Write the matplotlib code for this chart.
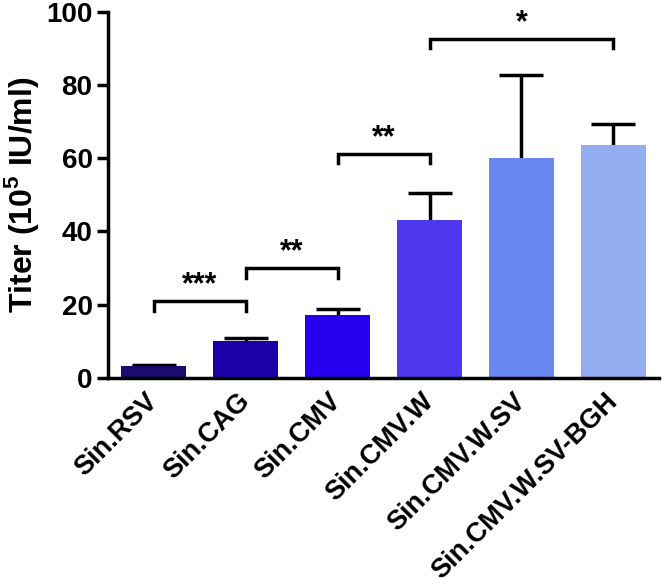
import matplotlib.pyplot as plt
import matplotlib.transforms as mtransforms

plt.rcParams['font.family'] = ['Liberation Sans', 'DejaVu Sans']
plt.rcParams['font.weight'] = 'bold'
plt.rcParams['mathtext.fontset'] = 'custom'
plt.rcParams['mathtext.bf'] = 'Liberation Sans:bold'

labels = ["Sin.RSV", "Sin.CAG", "Sin.CMV", "Sin.CMV.W", "Sin.CMV.W.SV", "Sin.CMV.W.SV-BGH"]
titer = [3.2, 10.1, 17.3, 43.2, 60.0, 63.6]
sem = [0.3, 0.7, 1.6, 7.4, 22.6, 5.8]
colors = ["#1a0c6e", "#1a00a8", "#2800f0", "#5038ee", "#6888f0", "#93aef0"]

# significance brackets: (left bar, right bar, bracket height, stars)
sig = [(0, 1, 21.0, "***"), (1, 2, 30.0, "**"), (2, 3, 61.2, "**"), (3, 5, 92.6, "*")]

fig = plt.figure(figsize=(6.66, 5.86), dpi=100)
ax = fig.add_axes([0.162, 0.355, 0.828, 0.625])

x = range(len(labels))
# error bars sit behind the bars so only the upper half shows
ax.errorbar(x, titer, yerr=sem, fmt="none", ecolor="black",
            elinewidth=2.5, capsize=16, capthick=2.5, zorder=1)
ax.bar(x, titer, width=0.71, color=colors, zorder=2)

for a, b, h, s in sig:
    ax.plot([a, a, b, b], [h - 2.6, h, h, h - 2.6], color="black", lw=2.5,
            solid_joinstyle="miter")
    ax.text((a + b) / 2, h + 0.2, s, ha="center", va="bottom", fontsize=22,
            fontweight="bold")

ax.set_xlim(-0.5, 5.5)
ax.set_ylim(0, 100)
ax.set_yticks(range(0, 101, 20))
ax.set_xticks(list(x))
ax.set_xticklabels(labels, rotation=45, ha="right", va="center",
                   rotation_mode="anchor", fontsize=19.5, fontweight="bold")
shift = mtransforms.ScaledTranslation(-10 / 100, 3 / 100, fig.dpi_scale_trans)
for lab in ax.get_xticklabels():
    lab.set_transform(lab.get_transform() + shift)
ax.tick_params(axis="x", length=0, pad=14)
ax.tick_params(axis="y", length=8, width=2.5, labelsize=20, pad=3)
ax.set_ylabel("Titer (10$^{\\mathbf{5}}$ IU/ml)", fontsize=23, fontweight="bold",
              labelpad=4)

for side in ["top", "right"]:
    ax.spines[side].set_visible(False)
for side in ["left", "bottom"]:
    ax.spines[side].set_linewidth(2.5)

fig.savefig("out.png", dpi=100)
